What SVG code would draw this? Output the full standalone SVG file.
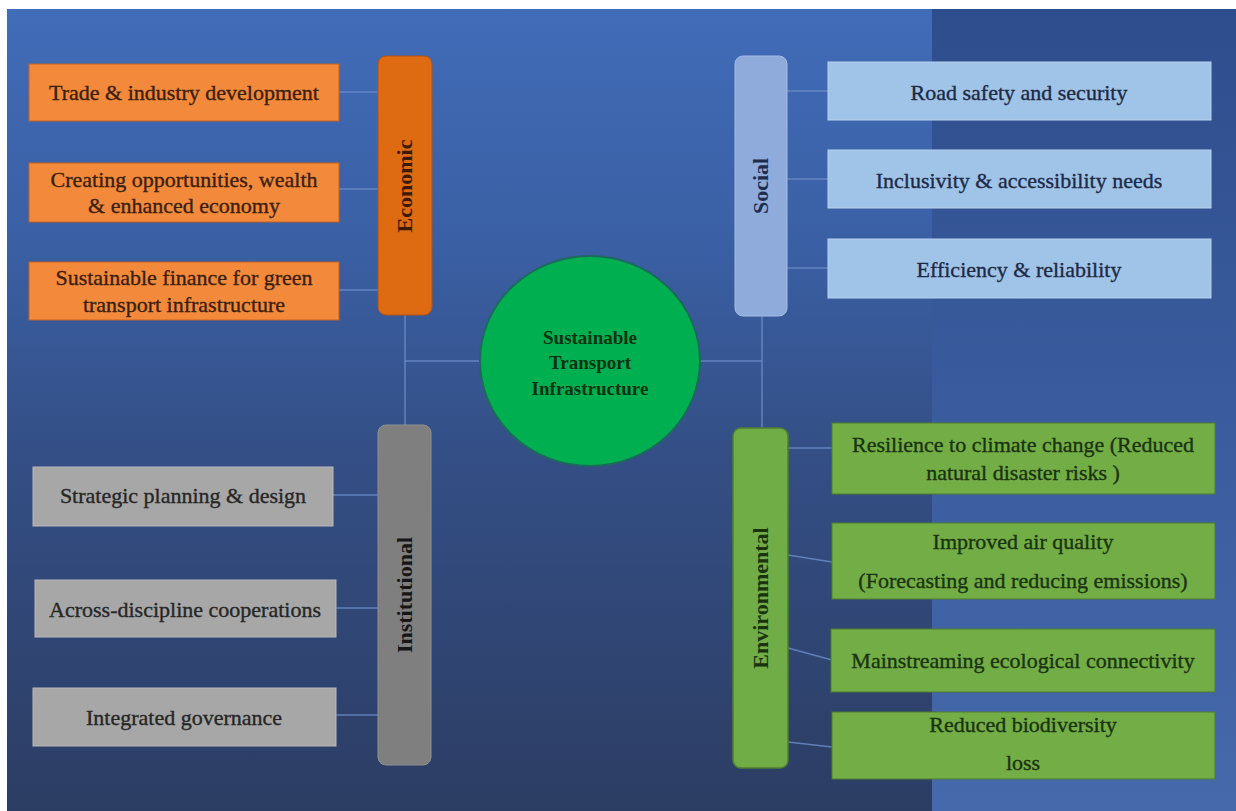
<svg xmlns="http://www.w3.org/2000/svg" width="1236" height="811" viewBox="0 0 1236 811">
<defs>
<linearGradient id="bgL" x1="0" y1="0" x2="0" y2="1">
<stop offset="0" stop-color="#416cb8"/>
<stop offset="0.3" stop-color="#3a5fa3"/>
<stop offset="0.55" stop-color="#344f86"/>
<stop offset="1" stop-color="#2c3d63"/>
</linearGradient>
<linearGradient id="bgR" x1="0" y1="0" x2="0" y2="1">
<stop offset="0" stop-color="#2e4d8c"/>
<stop offset="0.5" stop-color="#3a5c9e"/>
<stop offset="1" stop-color="#4669ab"/>
</linearGradient>
<style>
text{font-family:'Liberation Serif','Times New Roman',Times,serif}
.t{font-size:22px;text-anchor:middle;stroke-width:0.35}
.lbl{font-size:22px;font-weight:bold;text-anchor:middle}
.ctr{font-size:19px;font-weight:bold;text-anchor:middle;fill:#0b3312}
.ob{fill:#f38a3b;stroke:#c9601a;stroke-width:1}
.sb{fill:#a0c3e8;stroke:#b8d3ef;stroke-width:1}
.gb{fill:#a7a7a7;stroke:#b8b8b8;stroke-width:1}
.eb{fill:#72ae45;stroke:#4f7f2e;stroke-width:1}
.conn line{stroke:#6e8fcb;stroke-width:1.5;fill:none;opacity:0.8}
</style>
</defs>
<rect x="0" y="0" width="1236" height="811" fill="#ffffff"/>
<rect x="7" y="9" width="926" height="802" fill="url(#bgL)"/>
<rect x="932" y="9" width="304" height="802" fill="url(#bgR)"/>

<g id="connectors" class="conn">
<line x1="339" y1="92" x2="378" y2="92"/>
<line x1="339" y1="189" x2="378" y2="189"/>
<line x1="339" y1="290" x2="378" y2="290"/>
<line x1="405" y1="315" x2="405" y2="425"/>
<line x1="405" y1="361" x2="480" y2="361"/>
<line x1="333" y1="495" x2="378" y2="495"/>
<line x1="336" y1="608" x2="378" y2="608"/>
<line x1="336" y1="715" x2="378" y2="715"/>
<line x1="787" y1="91" x2="828" y2="91"/>
<line x1="787" y1="179" x2="828" y2="179"/>
<line x1="787" y1="268" x2="828" y2="268"/>
<line x1="762" y1="316" x2="762" y2="428"/>
<line x1="700" y1="361" x2="762" y2="361"/>
<line x1="788" y1="448" x2="832" y2="448"/>
<line x1="788" y1="555" x2="832" y2="562"/>
<line x1="788" y1="648" x2="832" y2="660"/>
<line x1="788" y1="742" x2="832" y2="747"/>
</g>

<g id="center">
<ellipse cx="590" cy="361" rx="110" ry="105" fill="#00b050" stroke="#1c6a5c" stroke-width="2"/>
<text class="ctr" x="590" y="344">Sustainable</text>
<text class="ctr" x="590" y="369">Transport</text>
<text class="ctr" x="590" y="395">Infrastructure</text>
</g>

<g id="economic">
<rect x="378" y="56" width="54" height="259" rx="8" fill="#de6a12" stroke="#b5520d" stroke-width="1"/>
<text class="lbl" transform="translate(412,186) rotate(-90)" fill="#3a1a08">Economic</text>
</g>
<g id="eco1">
<rect class="ob" x="29" y="64" width="310" height="57"/>
<text class="t" x="184" y="100" fill="#3b200e" stroke="#3b200e">Trade &amp; industry development</text>
</g>
<g id="eco2">
<rect class="ob" x="29" y="163" width="310" height="59"/>
<text class="t" x="184" y="187" fill="#3b200e" stroke="#3b200e">Creating opportunities, wealth</text>
<text class="t" x="184" y="213" fill="#3b200e" stroke="#3b200e">&amp; enhanced economy</text>
</g>
<g id="eco3">
<rect class="ob" x="29" y="262" width="310" height="58"/>
<text class="t" x="184" y="285" fill="#3b200e" stroke="#3b200e">Sustainable finance for green</text>
<text class="t" x="184" y="312" fill="#3b200e" stroke="#3b200e">transport infrastructure</text>
</g>

<g id="social">
<rect x="735" y="56" width="52" height="260" rx="8" fill="#8eabdc" stroke="#a4bde6" stroke-width="1"/>
<text class="lbl" transform="translate(768,186) rotate(-90)" fill="#1f2d4d">Social</text>
</g>
<g id="soc1">
<rect class="sb" x="828" y="62" width="383" height="58"/>
<text class="t" x="1019" y="100" fill="#1d2a44" stroke="#1d2a44">Road safety and security</text>
</g>
<g id="soc2">
<rect class="sb" x="828" y="150" width="383" height="58"/>
<text class="t" x="1019" y="188" fill="#1d2a44" stroke="#1d2a44">Inclusivity &amp; accessibility needs</text>
</g>
<g id="soc3">
<rect class="sb" x="828" y="239" width="383" height="59"/>
<text class="t" x="1019" y="277" fill="#1d2a44" stroke="#1d2a44">Efficiency &amp; reliability</text>
</g>

<g id="institutional">
<rect x="378" y="425" width="53" height="340" rx="8" fill="#7f7f7f" stroke="#909090" stroke-width="1"/>
<text class="lbl" transform="translate(412,595) rotate(-90)" fill="#161616">Institutional</text>
</g>
<g id="ins1">
<rect class="gb" x="33" y="467" width="300" height="59"/>
<text class="t" x="183" y="503" fill="#262626" stroke="#262626">Strategic planning &amp; design</text>
</g>
<g id="ins2">
<rect class="gb" x="35" y="580" width="301" height="57"/>
<text class="t" x="185" y="617" fill="#262626" stroke="#262626">Across-discipline cooperations</text>
</g>
<g id="ins3">
<rect class="gb" x="33" y="688" width="303" height="58"/>
<text class="t" x="184" y="725" fill="#262626" stroke="#262626">Integrated governance</text>
</g>

<g id="environmental">
<rect x="733" y="428" width="55" height="340" rx="8" fill="#70ad47" stroke="#4f7f2e" stroke-width="1.5"/>
<text class="lbl" transform="translate(768,598) rotate(-90)" fill="#1b3210">Environmental</text>
</g>
<g id="env1">
<rect class="eb" x="832" y="423" width="383" height="71"/>
<text class="t" x="1023" y="452" fill="#1b3210" stroke="#1b3210">Resilience to climate change (Reduced</text>
<text class="t" x="1023" y="480" fill="#1b3210" stroke="#1b3210">natural disaster risks )</text>
</g>
<g id="env2">
<rect class="eb" x="832" y="523" width="383" height="76"/>
<text class="t" x="1023" y="549" fill="#1b3210" stroke="#1b3210">Improved air quality</text>
<text class="t" x="1023" y="588" fill="#1b3210" stroke="#1b3210">(Forecasting and reducing emissions)</text>
</g>
<g id="env3">
<rect class="eb" x="831" y="629" width="384" height="63"/>
<text class="t" x="1023" y="668" fill="#1b3210" stroke="#1b3210">Mainstreaming ecological connectivity</text>
</g>
<g id="env4">
<rect class="eb" x="832" y="712" width="383" height="67"/>
<text class="t" x="1023" y="732" fill="#1b3210" stroke="#1b3210">Reduced biodiversity</text>
<text class="t" x="1023" y="770" fill="#1b3210" stroke="#1b3210">loss</text>
</g>
</svg>
